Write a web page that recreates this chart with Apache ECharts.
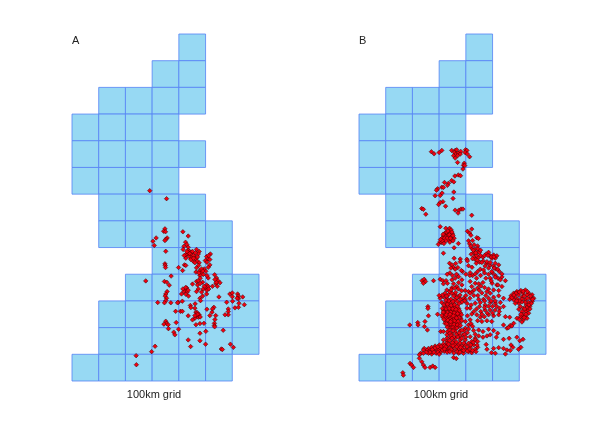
<!DOCTYPE html>
<html><head><meta charset="utf-8">
<script src="https://cdn.jsdelivr.net/npm/echarts@6/dist/echarts.min.js"></script>
<style>html,body{margin:0;padding:0;background:#fff}#c{width:600px;height:424px}</style>
</head><body><div id="c"></div>
<script>
const cellSize = 100;
const panelNames = ['A','B'];
const axisLabel = '100km grid';
// occupied 100 km columns, row by row from north (1200-1300) to south (0-100)
const rowColumns = [[4],[3,4],[1,2,3,4],[0,1,2,3],[0,1,2,3,4],[0,1,2,3],[1,2,3,4],[1,2,3,4,5],[3,4,5],[2,3,4,5,6],[1,2,3,4,5,6],[1,2,3,4,5,6],[0,1,2,3,4,5]];
// [km east, km north]
const pointsA = [[291,713],[354,683],[348,570],[343,561],[350,559],[415,559],[435,543],[315,536],[303,524],[356,536],[351,531],[348,526],[308,508],[425,520],[430,511],[419,505],[435,501],[416,493],[351,486],
[435,489],[441,485],[448,483],[433,476],[444,474],[451,485],[466,493],[476,485],[473,476],[426,473],[439,466],[448,461],[460,466],[464,458],[454,449],[469,449],[476,443],[460,443],[426,460],[518,476],[504,466],[510,458],[499,451],[516,455],[516,435],[510,426],[474,433],[466,424],[421,435],[426,433],[414,414],[399,425],[348,439],[349,433],[350,425],
[464,408],[479,414],[485,405],[495,420],[501,411],[491,399],[479,395],[510,386],[534,398],[541,386],[546,376],[554,368],[539,364],[526,355],[544,355],
[466,373],[473,376],[489,370],[276,375],[346,373],[355,370],[371,393],[364,359],[451,363],[504,360],[510,354],[499,348],[491,345],[473,345],[466,335],[485,333],[504,326],[489,318],[479,310],[481,301],[429,349],[424,341],[419,335],[431,333],[426,325],[410,326],[436,318],[413,299],[398,295],[356,335],[351,326],[349,318],[354,310],[351,301],[346,293],[370,293],[321,294],[395,293],
[550,315],[591,326],[600,316],[620,326],[623,318],[639,315],[623,308],[601,299],[579,295],[625,291],[645,286],[610,274],[623,276],[585,270],[585,260],[585,248],[573,248],[443,283],[445,275],[461,289],[460,273],[505,269],[531,276],[526,270],[524,258],[516,245],[538,245],[535,230],
[388,261],[406,261],[413,261],[435,244],[464,258],[469,256],[476,248],[466,243],[460,235],[451,229],[473,239],[464,211],[479,215],[494,216],[533,216],[533,208],[534,203],
[351,224],[354,216],[344,213],[360,211],[390,219],[361,196],[399,194],[381,183],[385,173],[501,186],[479,179],[566,190],[435,154],[479,151],[444,129],[500,138],[593,138],[604,126],[559,120],[563,118],[311,130],[298,110],[240,95],[241,61],
[440,478],[455,470],[470,465],[430,485],[445,455],[455,460],[420,470],[462,480],[512,470],[505,445],[485,420],[475,405],[490,412],[505,395],[480,385],[470,360],[480,365],[495,355],[505,340],[512,345],[425,350],[435,340],[415,345],[540,370],[535,380],[600,330],[618,310],[470,250],[460,245],[480,240]];
const pointsB = [[271,859],[281,851],[300,856],[310,864],[347,864],[360,864],[366,866],[357,856],[364,851],[372,854],[381,860],[379,850],[369,844],[354,844],[360,835],[369,819],[399,866],[404,864],[397,856],[405,851],[414,840],[394,816],[391,808],[389,794],[396,807],
[359,768],[372,772],[380,769],[347,751],[355,746],[320,744],[335,741],[331,733],[294,720],[290,715],[310,726],[316,725],[355,708],[311,704],[304,695],[285,694],[352,684],[314,672],[304,669],[298,661],[324,655],[235,646],[241,643],[250,625],[360,640],[374,640],[382,644],[389,644],[371,629],[422,621],
[304,578],[325,572],[339,572],[345,566],[322,554],[331,551],[341,554],[350,551],[316,544],[326,541],[336,544],[346,539],[356,535],[311,535],[319,529],[335,529],[347,529],[304,522],[310,519],[297,512],[372,515],[356,499],[316,479],
[315,550],[328,558],[338,548],[352,545],[320,535],[330,535],[342,535],[325,525],[340,520],[352,525],[312,525],[305,530],[318,515],[333,562],[348,558],
[406,561],[414,554],[422,569],[419,546],[441,537],[447,534],[410,525],[425,526],[414,514],[431,510],[444,506],[422,497],[435,494],[447,485],[429,481],[439,472],[451,482],[431,465],[447,462],[485,482],[476,476],[464,464],[491,469],[504,472],[516,469],[497,460],[510,460],[356,460],[379,457],[404,456],
[440,470],[428,490],[418,505],[437,480],[445,495],[455,470],[420,475],[435,455],[425,458],[470,470],[483,470],[495,465],[505,465],[455,490],[443,452],[452,445],[465,450],[478,440],[490,435],[503,430],[512,420],[500,405],[510,395],[525,410],[535,390],[520,385],[485,400],[470,405],[455,395],[440,385],[425,395],[415,395],[400,400],[388,410],[370,425],[362,440],[365,400],[350,395],[340,405],[330,400],
[339,441],[348,435],[354,426],[360,419],[344,423],[383,414],[379,447],[406,450],[410,432],[423,426],[416,406],[435,401],[444,410],[454,419],[466,416],[439,441],[460,444],[479,447],[491,444],[510,441],[523,435],[519,419],[506,423],[497,410],[485,423],[472,431],[535,401],
[236,376],[244,381],[249,373],[241,366],[279,376],[304,381],[314,376],[316,364],[326,376],[331,366],[348,379],[360,385],[373,391],[385,379],[354,364],[373,369],[385,360],[366,354],[348,349],[329,341],
[416,373],[435,366],[448,364],[456,356],[422,354],[444,348],[464,369],[397,339],[410,335],[422,333],[431,341],[416,329],[491,385],[510,389],[529,379],[548,376],[498,366],[516,360],[535,354],[504,341],[523,339],[491,329],[479,335],
[322,329],[335,323],[348,329],[360,323],[373,316],[316,316],[304,310],[329,310],[344,306],[360,304],[381,306],[310,294],[326,294],[339,294],[354,291],[322,279],[335,279],[348,276],[360,276],[373,272],[316,266],[329,264],[341,266],[354,264],[366,260],[379,256],[322,251],[335,251],[348,248],[360,248],[373,244],[314,239],[329,235],[341,235],[354,231],[366,231],[381,235],[326,223],[339,220],[351,219],[364,219],[376,216],[335,208],[348,208],[360,204],[373,204],[341,198],[294,250],[306,185],[316,185],[331,185],[329,173],
[318,285],[331,288],[345,283],[358,285],[368,280],[312,272],[326,270],[338,272],[351,270],[363,268],[376,264],[319,258],[331,257],[344,258],[356,255],[369,252],[384,248],[310,246],[324,243],[337,244],[349,241],[361,240],[374,238],[318,230],[333,228],[346,226],[358,225],[371,224],[385,226],[322,216],[336,213],[344,214],[356,212],[368,210],[380,208],[330,202],[352,200],[366,198],[340,190],[355,192],[327,248],[315,258],[341,250],[353,244],[365,236],[343,222],[328,214],
[312,322],[328,318],[340,335],[354,318],[366,312],[378,322],[392,310],[300,320],[336,300],[352,298],[368,298],[325,303],[362,332],[345,342],[358,348],[372,345],[384,338],
[579,329],[591,335],[606,339],[623,341],[635,329],[648,323],[654,310],[641,310],[629,323],[614,329],[598,323],[585,316],[569,319],[564,306],[579,304],[594,306],[610,314],[623,304],[635,294],[648,298],[639,279],[626,285],[610,306],[598,291],[585,291],[604,279],[616,273],[631,266],[623,260],[610,260],[598,269],[635,254],[623,244],[610,241],[629,235],[616,229],[604,241],[591,235],[610,221],[579,216],[566,208],[554,198],[541,210],[564,239],[548,241],
[588,329],[600,333],[615,336],[630,335],[642,318],[650,306],[645,290],[636,285],[628,275],[640,270],[622,295],[610,296],[600,300],[590,300],[572,312],[580,322],[618,318],[630,310],[620,270],[612,250],[625,250],[618,238],[606,250],[600,230],[572,206],[560,200],
[448,306],[454,294],[451,279],[466,306],[485,310],[504,314],[523,319],[541,310],[529,294],[510,291],[491,294],[472,285],[541,279],[526,273],[510,266],[491,266],[472,266],[456,260],[441,248],[454,239],[469,241],[485,248],[504,244],[523,248],[444,226],[460,223],[479,226],[497,223],[416,273],[404,273],[422,251],[406,244],[416,229],[398,223],[410,210],[398,198],[419,215],[435,291],[398,304],
[470,350],[485,345],[460,330],[475,320],[495,300],[510,300],[470,300],[445,320],[430,320],[415,310],[400,320],[395,300],[385,295],[375,290],[520,360],[495,375],[475,385],[450,340],[470,275],[485,280],[500,280],[515,280],[525,260],[500,255],[480,255],[460,250],[430,260],[440,270],[420,285],[405,290],
[258,279],[258,272],[260,244],[247,223],[245,204],[256,191],[220,219],[221,210],[190,210],
[379,188],[394,189],[406,181],[389,173],[376,169],[360,185],[348,176],[341,164],[329,160],[316,154],[360,160],[379,154],[398,154],[416,166],[429,189],[448,191],[464,185],[485,194],[504,189],[519,179],[479,169],[491,173],[464,164],[448,169],[435,160],[514,164],[541,156],[562,160],[591,164],[614,156],[602,151],
[340,178],[352,188],[365,175],[375,180],[385,190],[395,175],[410,195],[425,205],[435,175],[330,150],[345,170],[355,165],[370,165],[385,160],[400,165],
[348,160],[339,151],[354,148],[329,141],[316,139],[301,135],[285,131],[272,126],[260,122],[254,116],[266,114],[279,116],[291,119],[304,122],[316,126],[331,131],[344,135],[360,139],[373,135],[385,131],[398,135],[410,141],[422,148],[435,154],[444,148],[429,135],[416,126],[401,119],[385,114],[366,116],[351,114],[335,116],[319,111],[304,106],[289,104],[272,101],[260,104],[272,110],[297,114],[326,122],[341,122],[356,126],[373,122],[389,122],[435,119],[444,126],[422,106],[410,110],[391,104],[373,104],
[275,118],[285,124],[295,128],[308,130],[320,132],[335,138],[350,143],[365,146],[378,142],[392,142],[404,128],[415,118],[425,114],[438,110],[345,118],[330,108],[312,116],[295,108],[280,108],[265,108],[325,128],[352,132],[366,128],[380,126],[392,114],[405,112],[418,135],[428,145],[442,135],[320,120],[340,110],[355,105],[368,110],[378,108],[300,100],[252,108],[244,122],
[354,88],[364,84],[241,116],[231,104],[226,98],[241,104],[476,137],[479,119],[504,122],[523,125],[496,106],[510,104],[541,122],[554,116],[569,135],[576,126],[566,114],[548,101],[606,126],[597,119],
[226,85],[235,72],[241,60],[247,51],[191,66],[197,60],[204,51],[266,51],[276,56],[285,51],[164,31],[166,22]];

const cells = [];
rowColumns.forEach((cols, i) => cols.forEach(c => cells.push([c * cellSize, (rowColumns.length - 1 - i) * cellSize])));

const renderCell = (params, api) => {
  const p = api.coord([api.value(0), api.value(1) + cellSize]);
  const s = api.size([cellSize, cellSize]);
  return { type: 'rect', shape: { x: p[0], y: p[1], width: s[0], height: s[1] },
    style: { fill: '#97d9f3', stroke: 'rgba(85,130,245,0.8)', lineWidth: 1 } };
};
const lefts = [72, 359];
const option = {
  animation: false,
  backgroundColor: '#fff',
  textStyle: { fontFamily: 'Liberation Sans' },
  title: panelNames.map((t, i) => ({ text: t, left: lefts[i] - 5, top: 30,
    textStyle: { fontSize: 11, fontWeight: 'normal', color: '#222' } })),
  grid: lefts.map(l => ({ left: l, top: 34, width: 187, height: 347 })),
  xAxis: lefts.map((l, i) => ({ type: 'value', gridIndex: i, min: 0, max: 700, interval: cellSize,
    name: axisLabel, nameLocation: 'middle', nameGap: 8, nameTextStyle: { fontSize: 11, color: '#222', padding: [0, 23, 0, 0] },
    axisLine: { show: false }, axisTick: { show: false }, axisLabel: { show: false }, splitLine: { show: false } })),
  yAxis: lefts.map((l, i) => ({ type: 'value', gridIndex: i, min: 0, max: 1300, interval: cellSize,
    axisLine: { show: false }, axisTick: { show: false }, axisLabel: { show: false }, splitLine: { show: false } })),
  series: [0, 1].flatMap(i => [
    { type: 'custom', xAxisIndex: i, yAxisIndex: i, data: cells, renderItem: renderCell, silent: true, z: 1, clip: false },
    { type: 'scatter', xAxisIndex: i, yAxisIndex: i, data: i ? pointsB : pointsA, symbol: 'diamond', symbolSize: 4.5,
      itemStyle: { color: '#f00010', borderColor: '#300', borderWidth: 0.5, opacity: 1 }, silent: true, z: 2 }
  ])
};
echarts.init(document.getElementById('c'), null, { renderer: 'canvas' }).setOption(option);
</script></body></html>
